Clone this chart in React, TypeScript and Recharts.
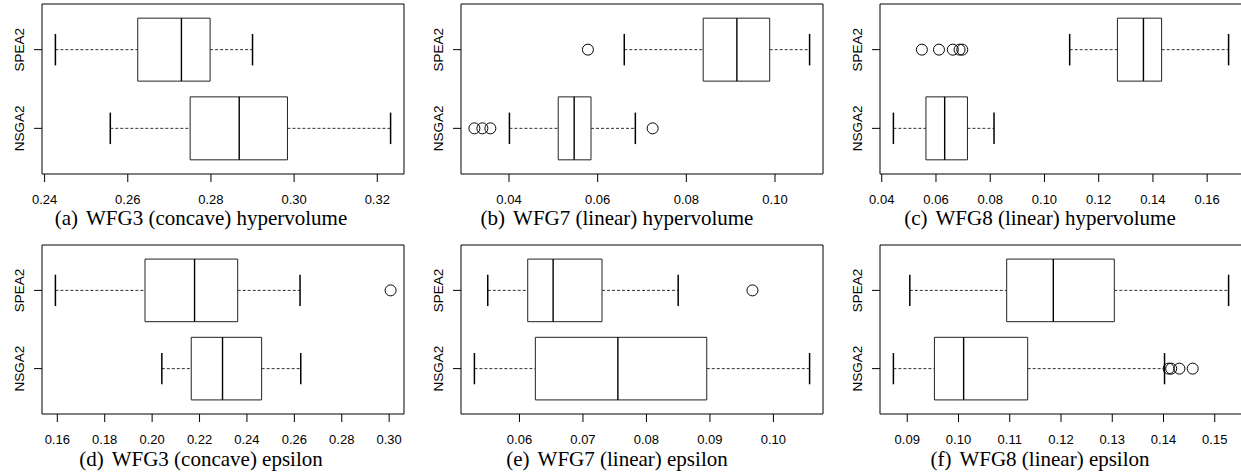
import React from 'react';
import {
  ScatterChart, Scatter, XAxis, YAxis, ReferenceArea, ReferenceLine,
} from 'recharts';

// five-number summaries: [lower whisker, Q1, median, Q3, upper whisker]
const aSpea = [0.2426, 0.2624, 0.2729, 0.2798, 0.2900];
const aNsga = [0.2558, 0.2750, 0.2868, 0.2984, 0.3232];
const aSpeaOut: number[] = [];
const aNsgaOut: number[] = [];
const aTicks = [0.24, 0.26, 0.28, 0.30, 0.32];

const bSpea = [0.0660, 0.0838, 0.0914, 0.0988, 0.1078];
const bNsga = [0.0401, 0.0511, 0.0547, 0.0585, 0.0685];
const bSpeaOut = [0.0578];
const bNsgaOut = [0.0322, 0.0340, 0.0358, 0.0724];
const bTicks = [0.04, 0.06, 0.08, 0.10];

const cSpea = [0.1093, 0.1269, 0.1365, 0.1432, 0.1679];
const cNsga = [0.0443, 0.0563, 0.0632, 0.0716, 0.0814];
const cSpeaOut = [0.0548, 0.0611, 0.0662, 0.0687, 0.0697];
const cNsgaOut: number[] = [];
const cTicks = [0.04, 0.06, 0.08, 0.10, 0.12, 0.14, 0.16];

const dSpea = [0.1592, 0.1970, 0.2179, 0.2361, 0.2624];
const dNsga = [0.2041, 0.2165, 0.2297, 0.2462, 0.2627];
const dSpeaOut = [0.3006];
const dNsgaOut: number[] = [];
const dTicks = [0.16, 0.18, 0.20, 0.22, 0.24, 0.26, 0.28, 0.30];

const eSpea = [0.0550, 0.0613, 0.0653, 0.0730, 0.0850];
const eNsga = [0.0529, 0.0625, 0.0755, 0.0895, 0.1057];
const eSpeaOut = [0.0967];
const eNsgaOut: number[] = [];
const eTicks = [0.06, 0.07, 0.08, 0.09, 0.10];

const fSpea = [0.0905, 0.1094, 0.1185, 0.1304, 0.1527];
const fNsga = [0.0873, 0.0953, 0.1010, 0.1135, 0.1402];
const fSpeaOut: number[] = [];
const fNsgaOut = [0.1410, 0.1415, 0.1431, 0.1457];
const fTicks = [0.09, 0.10, 0.11, 0.12, 0.13, 0.14, 0.15];

const groups = ['NSGA2', 'SPEA2']; // y positions 1, 2

const SANS = '"Liberation Sans", Arial, Helvetica, sans-serif';
const SERIF = '"Liberation Serif", "Times New Roman", serif';

const Y_DOMAIN: [number, number] = [0.42, 2.58];
const HALF = 0.4;

function YTick(props: any) {
  const { x, y, payload } = props;
  return (
    <text x={x} y={y} transform={`rotate(-90 ${x} ${y})`} textAnchor="middle"
      fontSize={13.5} fontFamily={SANS} fill="#000">
      {groups[payload.value - 1]}
    </text>
  );
}

const Circle = (props: any) => (
  <circle cx={props.cx} cy={props.cy} r={5.5} fill="none" stroke="#000" strokeWidth={1} />
);

const Nothing = () => <g />;

type PanelProps = {
  spea: number[]; nsga: number[]; speaOut: number[]; nsgaOut: number[];
  ticks: number[]; left: number; top: number; w: number; h: number;
};

function Panel({ spea, nsga, speaOut, nsgaOut, ticks, left, top, w, h }: PanelProps) {
  const all = [...spea, ...nsga, ...speaOut, ...nsgaOut];
  const mn = Math.min(...all);
  const mx = Math.max(...all);
  const pad = (mx - mn) * 0.04;
  const lo = mn - pad;
  const hi = mx + pad;

  const outliers = [
    ...nsgaOut.map(v => ({ x: v, y: 1 })),
    ...speaOut.map(v => ({ x: v, y: 2 })),
  ];
  // summary points, invisible; they give the chart its data
  const summary = [
    ...nsga.map(v => ({ x: v, y: 1 })),
    ...spea.map(v => ({ x: v, y: 2 })),
  ];

  const boxes = [
    { s: nsga, pos: 1 },
    { s: spea, pos: 2 },
  ];

  const els: React.ReactNode[] = [];
  boxes.forEach(({ s, pos }) => {
    const [wl, q1, md, q3, wh] = s;
    els.push(
      <ReferenceLine key={`wl${pos}`} segment={[{ x: wl, y: pos }, { x: q1, y: pos }]}
        stroke="#333" strokeDasharray="3 2" ifOverflow="visible" />,
      <ReferenceLine key={`wh${pos}`} segment={[{ x: q3, y: pos }, { x: wh, y: pos }]}
        stroke="#333" strokeDasharray="3 2" ifOverflow="visible" />,
      <ReferenceLine key={`sl${pos}`} segment={[{ x: wl, y: pos - HALF / 2 }, { x: wl, y: pos + HALF / 2 }]}
        stroke="#000" strokeWidth={1.5} ifOverflow="visible" />,
      <ReferenceLine key={`sh${pos}`} segment={[{ x: wh, y: pos - HALF / 2 }, { x: wh, y: pos + HALF / 2 }]}
        stroke="#000" strokeWidth={1.5} ifOverflow="visible" />,
      <ReferenceArea key={`b${pos}`} x1={q1} x2={q3} y1={pos - HALF} y2={pos + HALF}
        fill="#fff" fillOpacity={0} stroke="#222" strokeWidth={1} ifOverflow="visible" />,
      <ReferenceLine key={`m${pos}`} segment={[{ x: md, y: pos - HALF }, { x: md, y: pos + HALF }]}
        stroke="#000" strokeWidth={1.4} ifOverflow="visible" />,
    );
  });

  return (
    <div style={{ position: 'absolute', left: left - 42, top: top - 4 }}>
      <ScatterChart width={42 + w + 2} height={4 + h + 40}
        margin={{ top: 4, right: 2, bottom: 0, left: 0 }}>
        <XAxis type="number" dataKey="x" domain={[lo, hi]} ticks={ticks} interval={0}
          tickFormatter={(v: number) => v.toFixed(2)} tickSize={8} tickMargin={13}
          axisLine={false} tickLine={{ stroke: '#000' }} height={40}
          tick={{ fill: '#000', fontSize: 13, fontFamily: SANS }} />
        <YAxis type="number" dataKey="y" domain={Y_DOMAIN} ticks={[1, 2]} interval={0}
          tickSize={8} tickMargin={10} axisLine={false} tickLine={{ stroke: '#000' }}
          width={42} tick={<YTick />} />
        <ReferenceArea x1={lo} x2={hi} y1={Y_DOMAIN[0]} y2={Y_DOMAIN[1]}
          fill="none" stroke="#000" strokeWidth={1} ifOverflow="visible" />
        {els}
        <Scatter data={summary} shape={<Nothing />} isAnimationActive={false} />
        <Scatter data={outliers} shape={<Circle />} isAnimationActive={false} />
      </ScatterChart>
    </div>
  );
}

const colLeft = [42, 461.3, 880];
const rowTop = [4, 245.3];
const rowH = [170, 169];
const FW = 362;

const captions = [
  ['(a)', 'WFG3 (concave) hypervolume'],
  ['(b)', 'WFG7 (linear) hypervolume'],
  ['(c)', 'WFG8 (linear) hypervolume'],
  ['(d)', 'WFG3 (concave) epsilon'],
  ['(e)', 'WFG7 (linear) epsilon'],
  ['(f)', 'WFG8 (linear) epsilon'],
];
const capX = [201, 617, 1040];
const capY = [225, 466];

export default function App() {
  const panels = [
    { spea: aSpea, nsga: aNsga, speaOut: aSpeaOut, nsgaOut: aNsgaOut, ticks: aTicks },
    { spea: bSpea, nsga: bNsga, speaOut: bSpeaOut, nsgaOut: bNsgaOut, ticks: bTicks },
    { spea: cSpea, nsga: cNsga, speaOut: cSpeaOut, nsgaOut: cNsgaOut, ticks: cTicks },
    { spea: dSpea, nsga: dNsga, speaOut: dSpeaOut, nsgaOut: dNsgaOut, ticks: dTicks },
    { spea: eSpea, nsga: eNsga, speaOut: eSpeaOut, nsgaOut: eNsgaOut, ticks: eTicks },
    { spea: fSpea, nsga: fNsga, speaOut: fSpeaOut, nsgaOut: fNsgaOut, ticks: fTicks },
  ];
  return (
    <div style={{ position: 'absolute', left: 0, top: 0, width: 1241, height: 475, overflow: 'hidden', background: '#fff' }}>
      {panels.map((p, i) => {
        const r = Math.floor(i / 3);
        const c = i % 3;
        return (
          <Panel key={i} {...p} left={colLeft[c]} top={rowTop[r]} w={FW} h={rowH[r]} />
        );
      })}
      <svg width={1241} height={475} style={{ position: 'absolute', left: 0, top: 0, pointerEvents: 'none' }}>
        {captions.map(([lab, txt], i) => (
          <text key={i} x={capX[i % 3]} y={capY[Math.floor(i / 3)]} textAnchor="middle"
            fontFamily={SERIF} fontSize={21} fill="#000">
            <tspan>{lab}</tspan>
            <tspan dx={8}>{txt}</tspan>
          </text>
        ))}
      </svg>
    </div>
  );
}
